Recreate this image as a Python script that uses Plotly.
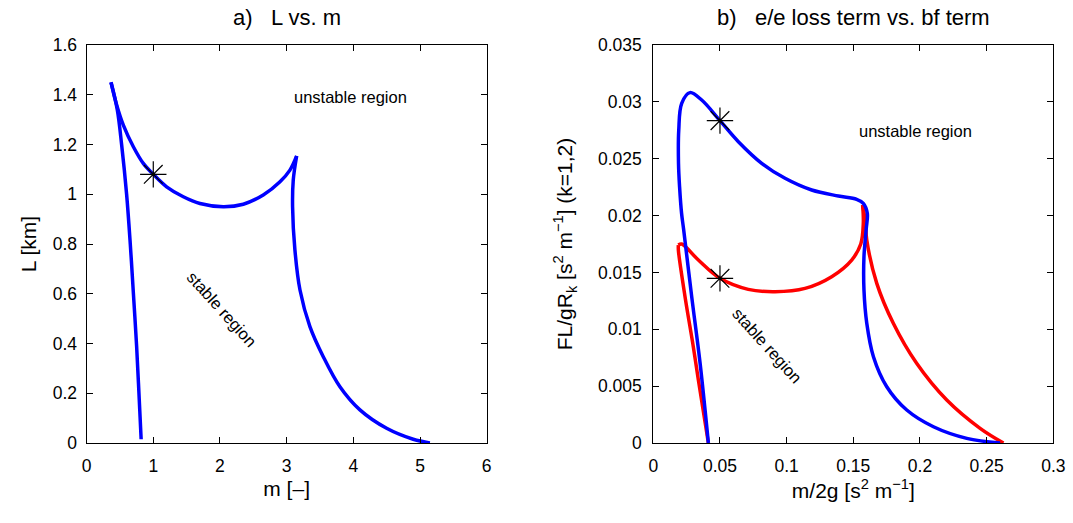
import plotly.graph_objects as go

# ---------------- Panel a) L vs. m ----------------
# left branch (bottom -> top)
a1_m = [0.818, 0.785, 0.750, 0.702, 0.655, 0.600, 0.525, 0.460, 0.366]
a1_L = [0.015, 0.200, 0.390, 0.600, 0.800, 1.000, 1.200, 1.340, 1.450]
# upper branch (top -> cusp)
a2_m = [0.366, 0.451, 0.551, 0.701, 0.850, 1.001, 1.200, 1.450, 1.700, 2.050, 2.350, 2.649, 2.900, 3.049, 3.150]
a2_L = [1.450, 1.359, 1.278, 1.191, 1.124, 1.080, 1.030, 0.990, 0.963, 0.950, 0.960, 0.997, 1.050, 1.097, 1.154]
# right branch (cusp -> m axis)
a3_m = [3.150, 3.099, 3.089, 3.124, 3.200, 3.349, 3.549, 3.799, 4.099, 4.499, 4.898, 5.148]
a3_L = [1.154, 1.057, 0.950, 0.776, 0.615, 0.468, 0.347, 0.226, 0.133, 0.059, 0.015, 0.0]
a_star_m = [1.0]
a_star_L = [1.080]

# ---------------- Panel b) ----------------
# blue curve (k=1)
b_blue_x = [0.0413, 0.0351, 0.0288, 0.0228, 0.0212, 0.0197, 0.0189, 0.0191, 0.0213, 0.0275, 0.0363, 0.0500,
            0.0638, 0.0813, 0.0988, 0.1188, 0.1388, 0.1525, 0.1575, 0.1605, 0.1596, 0.1580, 0.1580,
            0.1601, 0.1651, 0.1751, 0.1901, 0.2101, 0.2351, 0.2601]
b_blue_y = [0.0, 0.00701, 0.01287, 0.01873, 0.02020, 0.02254, 0.02460, 0.02753, 0.02987, 0.03081, 0.03016, 0.02835,
            0.02650, 0.02460, 0.02328, 0.02225, 0.02172, 0.02143, 0.02108, 0.02020, 0.01873, 0.01638, 0.01346,
            0.01053, 0.00759, 0.00495, 0.00290, 0.00143, 0.00041, 0.0]
# red curve (k=2): left branch (bottom -> corner)
b_red1_x = [0.0413, 0.0338, 0.0300, 0.0238, 0.0188, 0.0188]
b_red1_y = [0.0, 0.00554, 0.00847, 0.01287, 0.01697, 0.01741]
# red curve: lower arc (corner -> cusp)
b_red2_x = [0.0188, 0.0213, 0.0338, 0.0500, 0.0712, 0.0913, 0.1138, 0.1338, 0.1488, 0.1556, 0.1575, 0.1570]
b_red2_y = [0.01741, 0.01750, 0.01609, 0.01448, 0.01351, 0.01331, 0.01360, 0.01463, 0.01609, 0.01750, 0.01932, 0.02093]
# red curve: right branch (cusp -> axis)
b_red3_x = [0.1570, 0.1590, 0.1601, 0.1676, 0.1800, 0.1975, 0.2201, 0.2451, 0.2626]
b_red3_y = [0.02093, 0.01950, 0.01785, 0.01404, 0.01053, 0.00701, 0.00378, 0.00129, 0.0]
b_star_x = [0.05, 0.05]
b_star_y = [0.02835, 0.01448]

a_xticks = [0, 1, 2, 3, 4, 5, 6]
a_yticks = [0, 0.2, 0.4, 0.6, 0.8, 1, 1.2, 1.4, 1.6]
a_yticklabels = ["0", "0.2", "0.4", "0.6", "0.8", "1", "1.2", "1.4", "1.6"]
b_xticks = [0, 0.05, 0.1, 0.15, 0.2, 0.25, 0.3]
b_xticklabels = ["0", "0.05", "0.1", "0.15", "0.2", "0.25", "0.3"]
b_yticks = [0, 0.005, 0.01, 0.015, 0.02, 0.025, 0.03, 0.035]
b_yticklabels = ["0", "0.005", "0.01", "0.015", "0.02", "0.025", "0.03", "0.035"]

FONT = "Liberation Sans, Arial, sans-serif"
BLUE = "#0000ff"
RED = "#ff0000"
LW = 3.5

W, H = 1073, 523


def dx(px):
    return px / W


def dy(py):
    return 1 - py / H


fig = go.Figure()


def add_line(xs, ys, color, xa, ya):
    fig.add_trace(go.Scatter(x=xs, y=ys, mode="lines",
                             line=dict(color=color, width=LW, shape="spline", smoothing=1.0),
                             xaxis=xa, yaxis=ya, showlegend=False, hoverinfo="skip"))


def add_star(xs, ys, xa, ya):
    fig.add_trace(go.Scatter(x=xs, y=ys, mode="markers",
                             marker=dict(symbol="asterisk-open", size=22, color="black",
                                         line=dict(color="black", width=1.2)),
                             xaxis=xa, yaxis=ya, showlegend=False))


add_line(a1_m, a1_L, BLUE, "x", "y")
add_line(a2_m, a2_L, BLUE, "x", "y")
add_line(a3_m, a3_L, BLUE, "x", "y")
add_star(a_star_m, a_star_L, "x", "y")

add_line(b_red1_x, b_red1_y, RED, "x2", "y2")
add_line(b_red2_x, b_red2_y, RED, "x2", "y2")
add_line(b_red3_x, b_red3_y, RED, "x2", "y2")
add_line(b_blue_x, b_blue_y, BLUE, "x2", "y2")
add_star(b_star_x, b_star_y, "x2", "y2")

axis_common = dict(showgrid=False, zeroline=False, showline=True, linecolor="black", linewidth=1,
                   mirror="ticks", ticks="inside", ticklen=6, tickcolor="black", automargin=False,
                   tickfont=dict(family=FONT, size=17.5, color="black"))

XD1 = [dx(86.6), dx(486.7)]
XD2 = [dx(653.3), dx(1053.3)]
YD = [dy(443), dy(45)]

fig.update_layout(
    width=W, height=H,
    margin=dict(l=0, r=0, t=0, b=0, pad=0),
    paper_bgcolor="white", plot_bgcolor="white",
    font=dict(family=FONT, color="black"),
    xaxis=dict(domain=XD1, range=[0, 6], tickvals=a_xticks, anchor="y", ticklabelstandoff=7,
               title=dict(text="m [–]", font=dict(size=21), standoff=6), **axis_common),
    yaxis=dict(domain=YD, range=[0, 1.6], tickvals=a_yticks, ticktext=a_yticklabels, anchor="x",
               ticklabelstandoff=5,
               title=dict(text="L [km]", font=dict(size=21), standoff=10), **axis_common),
    xaxis2=dict(domain=XD2, range=[0, 0.3], tickvals=b_xticks, ticktext=b_xticklabels, anchor="y2",
                ticklabelstandoff=7,
                title=dict(text="m/2g [s<sup>2</sup> m<sup>−1</sup>]", font=dict(size=21), standoff=6), **axis_common),
    yaxis2=dict(domain=YD, range=[0, 0.035], tickvals=b_yticks, ticktext=b_yticklabels, anchor="x2",
                ticklabelstandoff=7,
                title=dict(text="FL/gR<sub>k</sub> [s<sup>2</sup> m<sup>−1</sup>] (k=1,2)", font=dict(size=21), standoff=19),
                **axis_common),
    annotations=[
        dict(text="a)   L vs. m", xref="paper", yref="paper", x=(XD1[0] + XD1[1]) / 2, y=dy(17),
             showarrow=False, font=dict(size=22), xanchor="center", yanchor="middle"),
        dict(text="b)   e/e loss term vs. bf term", xref="paper", yref="paper", x=(XD2[0] + XD2[1]) / 2, y=dy(17),
             showarrow=False, font=dict(size=22), xanchor="center", yanchor="middle"),
        dict(text="unstable region", xref="x", yref="y", x=3.95, y=1.39, showarrow=False, font=dict(size=16.5)),
        dict(text="stable region", xref="x", yref="y", x=2.03, y=0.54, showarrow=False, textangle=48, font=dict(size=16.5)),
        dict(text="unstable region", xref="x2", yref="y2", x=0.197, y=0.0274, showarrow=False, font=dict(size=16.5)),
        dict(text="stable region", xref="x2", yref="y2", x=0.0851, y=0.0086, showarrow=False, textangle=48, font=dict(size=16.5)),
    ],
)

fig.write_html("out.html")
